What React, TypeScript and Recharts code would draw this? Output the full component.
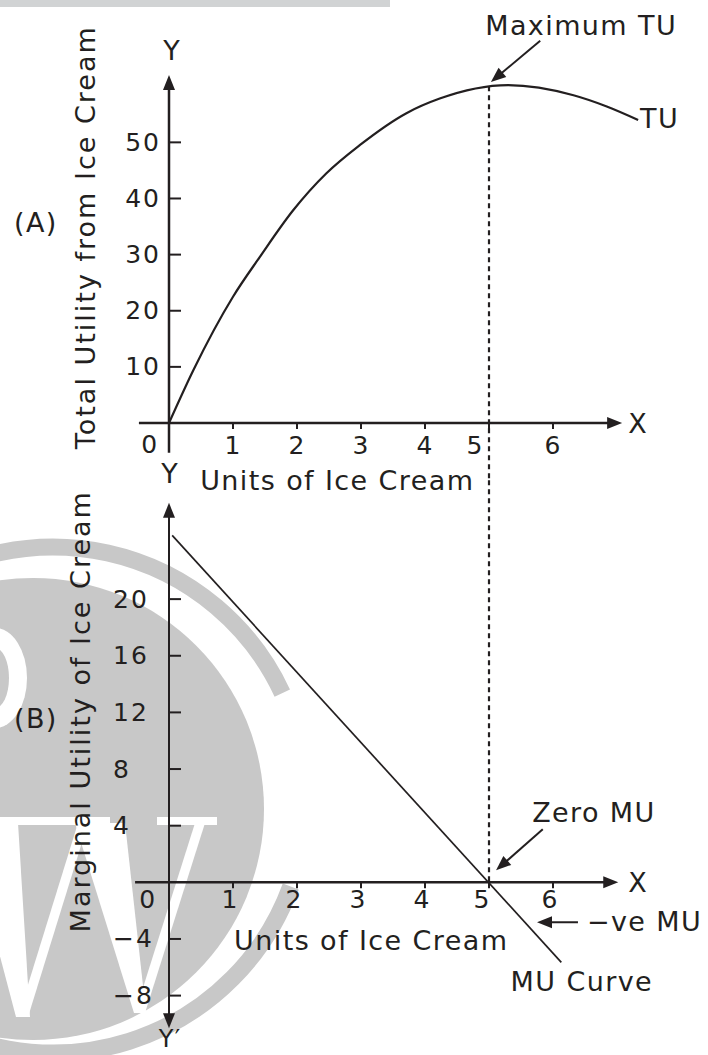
import React from 'react';
import { LineChart, Line, XAxis, YAxis, ReferenceLine, ReferenceDot } from 'recharts';

// Total utility curve (panel A)
const tuUnits = [0, 0.38, 1, 1.42, 1.94, 2.46, 2.98, 3.71, 4.23, 5.3, 6.32, 6.84, 7.33];
const tuValues = [0, 9.4, 22.5, 29.6, 37.9, 44.5, 49.5, 55.2, 57.8, 60.2, 58.4, 56.4, 54.0];

// Marginal utility line (panel B)
const muUnits = [0.05, 6.13];
const muValues = [24.5, -5.65];

const unitTicks = [1, 2, 3, 4, 5, 6];
const tuTicks = [10, 20, 30, 40, 50];
const muTicks = [20, 16, 12, 8, 4, -4, -8];

// TU is at its max (and MU hits zero) at the 5th unit
const peakUnits = 5;
const peakTU = 60;

const tuData = tuUnits.map((x, i) => ({ x, tu: tuValues[i] }));
const muData = muUnits.map((x, i) => ({ x, mu: muValues[i] }));

const INK = '#231f20';
const GREY = '#c8c8c8';
const FONT = '"DejaVu Sans", sans-serif';

const fmt = (n: number) => (n < 0 ? '\u2212' + Math.abs(n) : String(n));

// line with a filled arrow head at the end (and optionally at the start)
const arrowShape = (both = false, head = 15, half = 6) => (props: any) => {
  const { x1, y1, x2, y2, stroke, strokeWidth } = props;
  const ang = Math.atan2(y2 - y1, x2 - x1);
  const c = Math.cos(ang);
  const s = Math.sin(ang);
  const headAt = (x: number, y: number, dir: number) => {
    const bx = x - dir * head * c;
    const by = y - dir * head * s;
    return `${x},${y} ${bx - half * s},${by + half * c} ${bx + half * s},${by - half * c}`;
  };
  return (
    <g>
      <line
        x1={both ? x1 + head * 0.7 * c : x1}
        y1={both ? y1 + head * 0.7 * s : y1}
        x2={x2 - head * 0.7 * c}
        y2={y2 - head * 0.7 * s}
        stroke={stroke}
        strokeWidth={strokeWidth}
      />
      <polygon points={headAt(x2, y2, 1)} fill={stroke} />
      {both && <polygon points={headAt(x1, y1, -1)} fill={stroke} />}
    </g>
  );
};

const labelShape =
  (text: string, o: { anchor?: 'start' | 'middle' | 'end'; rotate?: boolean; size?: number; spacing?: number } = {}) =>
  (p: any) => (
    <text
      x={p.cx}
      y={p.cy}
      textAnchor={o.anchor ?? 'middle'}
      dominantBaseline="central"
      fontFamily={FONT}
      fontSize={o.size ?? 27}
      letterSpacing={o.spacing ?? 1.4}
      fill={INK}
      transform={o.rotate ? `rotate(-90 ${p.cx} ${p.cy})` : undefined}
    >
      {text}
    </text>
  );

const xTickShape = (text: string, dy: number, dx: number) => (p: any) => (
  <g>
    <line x1={p.cx} y1={p.cy - 1} x2={p.cx} y2={p.cy + 6} stroke={INK} strokeWidth={2} />
    <text x={p.cx + dx} y={p.cy + dy} textAnchor="middle" dominantBaseline="central" fontFamily={FONT} fontSize={25} letterSpacing={1} fill={INK}>
      {text}
    </text>
  </g>
);

const yTickShape = (text: string, anchor: 'start' | 'end', dx: number) => (p: any) => (
  <g>
    <line x1={p.cx} y1={p.cy} x2={p.cx + 12} y2={p.cy} stroke={INK} strokeWidth={2} />
    <text x={p.cx + dx} y={p.cy} textAnchor={anchor} dominantBaseline="central" fontFamily={FONT} fontSize={25} letterSpacing={2} fill={INK}>
      {text}
    </text>
  </g>
);

const TotalUtilityChart = () => (
  <LineChart width={708} height={500} data={tuData} margin={{ top: 75, right: 59, bottom: 77, left: 169 }}>
    <XAxis type="number" dataKey="x" domain={[0, 7.5]} allowDataOverflow hide />
    <YAxis type="number" domain={[0, 62]} allowDataOverflow hide />

    <ReferenceLine segment={[{ x: -0.47, y: 0 }, { x: 7.08, y: 0 }]} ifOverflow="visible" stroke={INK} strokeWidth={2.5} shape={arrowShape()} />
    <ReferenceLine segment={[{ x: 0, y: -5.3 }, { x: 0, y: 62 }]} ifOverflow="visible" stroke={INK} strokeWidth={2.5} shape={arrowShape()} />

    {tuTicks.map((t) => (
      <ReferenceDot key={'ty' + t} x={0} y={t} ifOverflow="visible" shape={yTickShape(fmt(t), 'end', -8)} />
    ))}
    {unitTicks.map((t) => (
      <ReferenceDot key={'tx' + t} x={t} y={0} ifOverflow="visible" shape={xTickShape(fmt(t), 22, t === peakUnits ? -14 : 0)} />
    ))}

    <ReferenceLine
      segment={[{ x: peakUnits, y: peakTU }, { x: peakUnits, y: -10.2 }]}
      ifOverflow="visible"
      stroke={INK}
      strokeWidth={2.2}
      strokeDasharray="5 4"
    />

    <Line type="monotone" dataKey="tu" stroke={INK} strokeWidth={2.2} dot={false} isAnimationActive={false} />

    <ReferenceLine segment={[{ x: 5.8, y: 68.1 }, { x: 5.03, y: 60.75 }]} ifOverflow="visible" stroke={INK} strokeWidth={2} shape={arrowShape()} />

    <ReferenceDot x={0.05} y={66.3} ifOverflow="visible" shape={labelShape('Y')} />
    <ReferenceDot x={7.33} y={0} ifOverflow="visible" shape={labelShape('X')} />
    <ReferenceDot x={7.36} y={54.3} ifOverflow="visible" shape={labelShape('TU', { anchor: 'start' })} />
    <ReferenceDot x={6.44} y={70.9} ifOverflow="visible" shape={labelShape('Maximum TU')} />
    <ReferenceDot x={-2.08} y={35.8} ifOverflow="visible" shape={labelShape('(A)')} />
    <ReferenceDot x={-1.31} y={33.1} ifOverflow="visible" shape={labelShape('Total Utility from Ice Cream', { rotate: true, spacing: 2 })} />
    <ReferenceDot x={2.63} y={-10.2} ifOverflow="visible" shape={labelShape('Units of Ice Cream')} />
    <ReferenceDot x={-0.3} y={-3.9} ifOverflow="visible" shape={labelShape('0', { size: 25 })} />
  </LineChart>
);

const MarginalUtilityChart = () => (
  <LineChart width={708} height={615} data={muData} margin={{ top: 60, right: 59, bottom: 24, left: 169 }}>
    <XAxis type="number" dataKey="x" domain={[0, 7.5]} allowDataOverflow hide />
    <YAxis type="number" domain={[-10.5, 27]} allowDataOverflow hide />

    <ReferenceLine segment={[{ x: -0.53, y: 0 }, { x: 7.02, y: 0 }]} ifOverflow="visible" stroke={INK} strokeWidth={2.5} shape={arrowShape()} />
    <ReferenceLine segment={[{ x: 0, y: -10.3 }, { x: 0, y: 26.8 }]} ifOverflow="visible" stroke={INK} strokeWidth={2} shape={arrowShape(true)} />

    {muTicks.map((t) => (
      <ReferenceDot key={'my' + t} x={0} y={t} ifOverflow="visible" shape={yTickShape(fmt(t), 'start', -56)} />
    ))}
    {unitTicks.map((t) => (
      <ReferenceDot key={'mx' + t} x={t} y={0} ifOverflow="visible" shape={xTickShape(fmt(t), 17, t === peakUnits ? -7 : -3)} />
    ))}

    <ReferenceLine
      segment={[{ x: peakUnits, y: 28.4 }, { x: peakUnits, y: 0 }]}
      ifOverflow="visible"
      stroke={INK}
      strokeWidth={2.2}
      strokeDasharray="5 4"
    />

    <Line type="linear" dataKey="mu" stroke={INK} strokeWidth={1.7} dot={false} isAnimationActive={false} />

    <ReferenceLine segment={[{ x: 5.84, y: 3.74 }, { x: 5.11, y: 0.85 }]} ifOverflow="visible" stroke={INK} strokeWidth={2} shape={arrowShape()} />
    <ReferenceLine segment={[{ x: 6.39, y: -2.82 }, { x: 5.75, y: -2.82 }]} ifOverflow="visible" stroke={INK} strokeWidth={2} shape={arrowShape()} />

    <ReferenceDot x={0.02} y={28.9} ifOverflow="visible" shape={labelShape('Y')} />
    <ReferenceDot x={0.02} y={-11.05} ifOverflow="visible" shape={labelShape('Y\u2032', { size: 24 })} />
    <ReferenceDot x={7.33} y={0} ifOverflow="visible" shape={labelShape('X')} />
    <ReferenceDot x={6.64} y={4.94} ifOverflow="visible" shape={labelShape('Zero MU')} />
    <ReferenceDot x={6.53} y={-2.75} ifOverflow="visible" shape={labelShape('\u2212ve MU', { anchor: 'start' })} />
    <ReferenceDot x={6.45} y={-6.99} ifOverflow="visible" shape={labelShape('MU Curve')} />
    <ReferenceDot x={-2.08} y={11.58} ifOverflow="visible" shape={labelShape('(B)')} />
    <ReferenceDot x={-1.375} y={12.08} ifOverflow="visible" shape={labelShape('Marginal Utility of Ice Cream', { rotate: true, spacing: 2 })} />
    <ReferenceDot x={3.16} y={-4.1} ifOverflow="visible" shape={labelShape('Units of Ice Cream')} />
    <ReferenceDot x={-0.33} y={-1.2} ifOverflow="visible" shape={labelShape('0', { size: 25 })} />
  </LineChart>
);

// grey watermark behind the lower panel and the grey strip at the top
const Backdrop = () => {
  const cx = 53;
  const cy = 800;
  const r = 253;
  const a0 = (20 * Math.PI) / 180;
  const a1 = (-25 * Math.PI) / 180;
  const ring = `M ${cx + r * Math.cos(a0)} ${cy + r * Math.sin(a0)} A ${r} ${r} 0 1 1 ${cx + r * Math.cos(a1)} ${cy + r * Math.sin(a1)}`;
  return (
    <svg width={708} height={1055} style={{ position: 'absolute', left: 0, top: 0 }}>
      <rect x={0} y={0} width={390} height={7} fill="#d1d3d4" />
      <circle cx={33} cy={809} r={231} fill={GREY} />
      <path d={ring} stroke={GREY} strokeWidth={17} fill="none" />
      <ellipse cx={-5} cy={678} rx={32} ry={50} fill="#fff" />
      <ellipse cx={-5} cy={678} rx={14} ry={30} fill={GREY} />
      <rect x={0} y={817} width={110} height={8} fill="#fff" />
      <rect x={157} y={817} width={60} height={8} fill="#fff" />
      <polygon points="-35,823 18,823 30,1017 16,1017" fill="#fff" />
      <polygon points="18,1017 28,1017 88,823 78,823" fill="#fff" />
      <polygon points="75,823 125,823 146,1013 134,1013" fill="#fff" />
      <polygon points="135,1013 145,1013 205,823 195,823" fill="#fff" />
    </svg>
  );
};

export default function App() {
  return (
    <div style={{ position: 'absolute', left: 0, top: 0, width: 708, height: 1055, background: '#fff', overflow: 'hidden' }}>
      <Backdrop />
      <div style={{ position: 'absolute', left: 0, top: 0 }}>
        <TotalUtilityChart />
      </div>
      <div style={{ position: 'absolute', left: 0, top: 440 }}>
        <MarginalUtilityChart />
      </div>
    </div>
  );
}
